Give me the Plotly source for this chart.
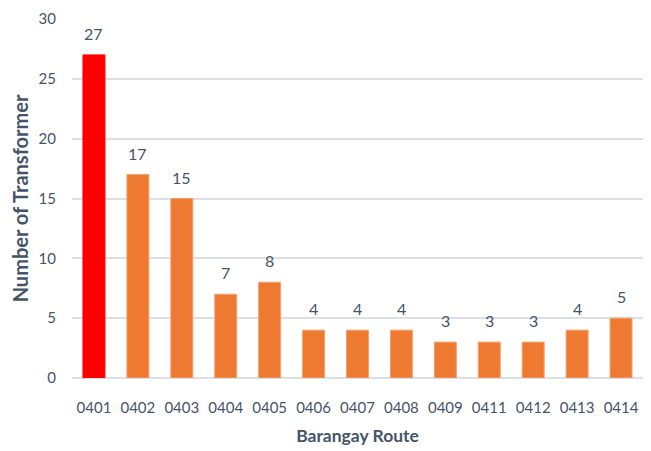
import plotly.graph_objects as go

routes = ["0401", "0402", "0403", "0404", "0405", "0406", "0407",
          "0408", "0409", "0411", "0412", "0413", "0414"]
counts = [27, 17, 15, 7, 8, 4, 4, 4, 3, 3, 3, 4, 5]
y_ticks = [0, 5, 10, 15, 20, 25, 30]

text_color = "#44546A"
colors = ["#FF0000"] + ["#EE7A32"] * (len(routes) - 1)
line_colors = ["#FF0000"] + ["#F3A06E"] * (len(routes) - 1)

fig = go.Figure(go.Bar(
    x=routes, y=counts,
    marker=dict(color=colors, line=dict(color=line_colors, width=1)),
))

for i, c in enumerate(counts):
    fig.add_annotation(x=i, y=c, text=str(c), showarrow=False,
                       xref="x", yref="y",
                       yanchor="bottom", yshift=10,
                       font=dict(family="Lato", size=16, color=text_color))

fig.update_layout(
    width=651, height=451,
    margin=dict(l=72, r=8, t=19, b=73),
    paper_bgcolor="white", plot_bgcolor="white",
    bargap=0.5,
    showlegend=False,
    font=dict(family="Lato", size=14, color=text_color),
)
fig.update_xaxes(
    type="category", categoryorder="array", categoryarray=routes,
    range=[-0.5, len(routes) - 0.5],
    showgrid=False, showline=False,
    ticks="", ticklabelstandoff=19,
    tickfont=dict(family="Lato", size=15, color=text_color),
    title=dict(text="<b>Barangay Route</b>", standoff=14,
               font=dict(family="Lato", size=17.5, color=text_color)),
)
fig.update_yaxes(
    range=[0, 30], tickvals=y_ticks,
    showgrid=True, gridcolor="#DCDFE4", gridwidth=1.5,
    zeroline=True, zerolinecolor="#DCDFE4", zerolinewidth=1.5,
    showline=False, ticks="", ticklabelstandoff=15,
    tickfont=dict(family="Lato", size=15, color=text_color),
    title=dict(text="<b>Number of Transformer</b>", standoff=4,
               font=dict(family="Lato", size=20, color=text_color)),
)

fig.write_html("out.html")
